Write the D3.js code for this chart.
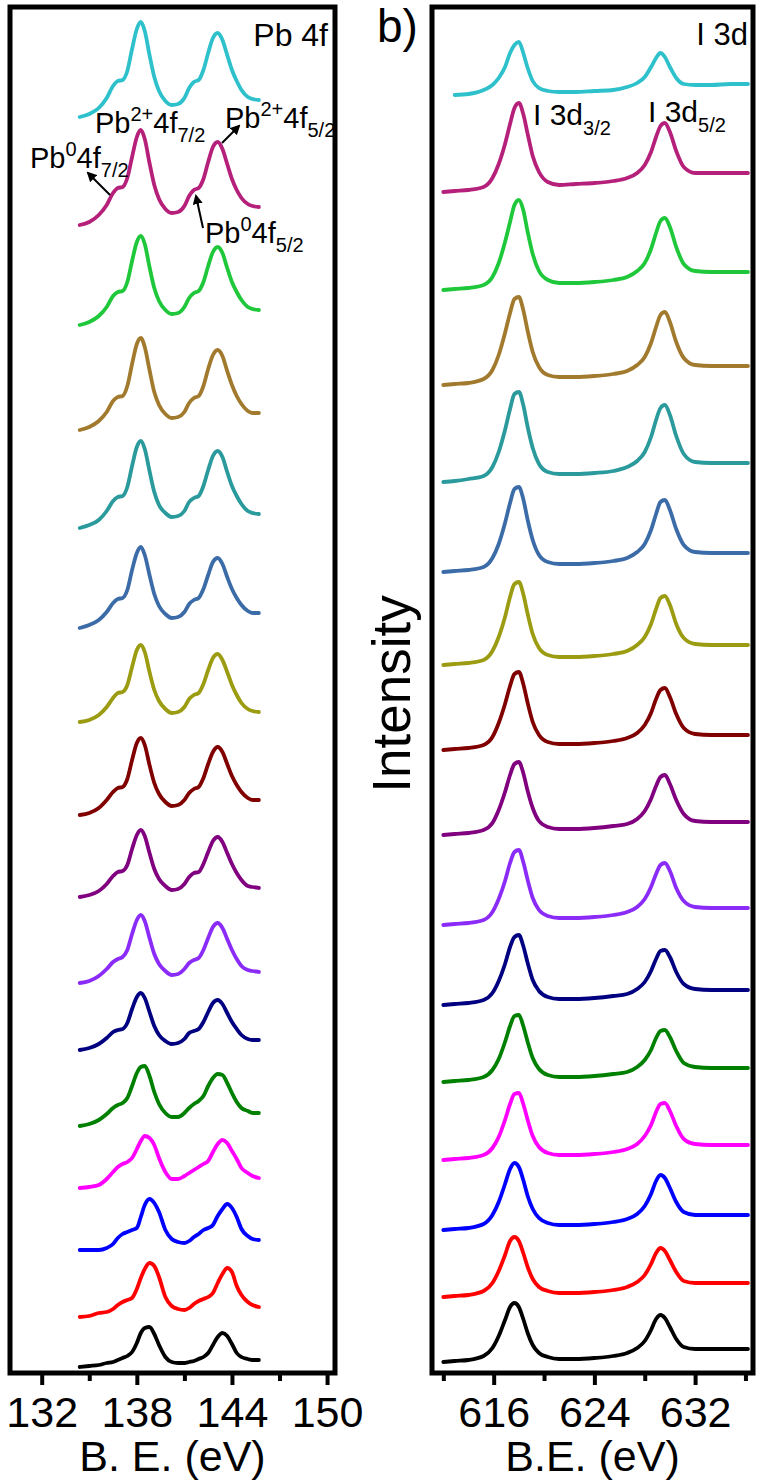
<!DOCTYPE html>
<html>
<head>
<meta charset="utf-8">
<script src="https://cdn.jsdelivr.net/npm/d3@7"></script>
<style>
  body { margin: 0; background: #fff; }
  text { font-family: Arial, "Liberation Sans", sans-serif; fill: #000; }
</style>
</head>
<body>
<svg id="chart" width="760" height="1482"></svg>
<script>
// ---- Pb 4f panel (a) ----
// energies (eV) shared by every Pb 4f trace
const pbEnergy = [134.4, 135.0, 135.6, 136.1, 136.5, 136.8, 137.1, 137.4, 137.7, 138.0, 138.25, 138.5,
  138.8, 139.1, 139.4, 139.8, 140.2, 140.6, 141.0, 141.3, 141.6, 141.9, 142.2, 142.5, 142.8, 143.1,
  143.4, 143.7, 144.0, 144.3, 144.6, 145.0, 145.3, 145.7];
// bottom trace first
const pbColors = ['#000000', '#ff0000', '#0000ff', '#ff00ff', '#008000', '#000080', '#8b2bf7', '#800080',
  '#800000', '#9c9c12', '#3c6ca8', '#2a9a9c', '#a27a2e', '#1fc83a', '#b5217a', '#2ec1cb'];
const pbOffsets = [6, 56, 123, 185, 247, 323, 390, 476, 558, 651, 745, 845, 943, 1048, 1148, 1256];
const pbSpectra = [
  [0,1,2,4,5,7,9,11,15,24,34,39,40,33,22,10,5,4,4,5,6,8,10,14,22,30,34,31,23,14,10,8,7,7],
  [0,1,4,5,8,12,15,17,19,28,39,48,54,51,40,20,11,8,7,9,13,16,18,20,24,34,43,49,45,31,22,15,12,10],
  [0,0,0,2,6,12,16,18,20,22,33,45,51,47,38,20,11,8,7,9,13,16,20,22,25,34,41,46,42,33,21,14,11,10],
  [0,1,3,9,16,21,24,26,30,39,47,52,50,43,30,16,9,9,12,15,18,21,24,27,36,44,48,45,37,29,20,15,12,10],
  [0,2,6,12,18,21,23,28,40,53,59,60,50,34,22,13,9,9,13,18,22,25,30,40,48,52,51,43,33,24,18,15,13,13],
  [0,2,6,12,18,20,21,27,41,53,57,52,38,24,15,9,6,7,11,17,19,21,28,38,47,50,46,37,28,21,15,11,10,10],
  [0,2,7,14,21,24,26,33,49,63,68,62,45,29,19,12,8,9,14,20,23,25,33,45,56,60,55,44,33,24,17,13,12,11],
  [0,2,6,13,21,25,26,32,48,62,67,61,44,28,18,11,7,8,13,20,24,25,33,45,56,60,55,44,33,24,17,11,10,9],
  [0,2,7,15,23,27,28,36,55,72,77,70,50,32,21,13,9,10,15,22,26,28,37,51,63,68,63,51,39,30,23,17,15,15],
  [0,2,7,15,24,29,30,37,55,72,77,70,50,32,21,13,9,10,15,23,27,29,38,52,64,68,62,50,37,27,19,13,11,10],
  [0,3,8,16,25,29,30,38,58,75,81,73,53,34,22,14,10,11,16,24,28,30,39,53,66,70,64,51,39,30,23,17,15,15],
  [0,3,8,17,27,31,32,41,62,81,87,79,57,36,23,15,11,12,17,26,30,32,42,58,72,77,71,56,42,32,24,17,15,14],
  [0,3,9,18,29,33,34,44,66,86,92,83,60,38,25,16,12,13,18,27,32,34,44,61,75,80,74,59,45,34,26,19,17,17],
  [0,3,9,18,29,33,34,43,64,83,89,81,58,37,24,15,11,12,18,27,32,34,43,59,73,78,72,57,43,33,25,18,16,15],
  [0,3,10,20,32,37,38,47,68,88,95,86,62,40,26,16,12,13,19,29,35,37,46,63,78,83,76,61,46,35,27,21,19,18],
  [0,3,9,19,31,36,37,46,68,88,95,86,62,40,26,16,12,13,19,29,35,37,47,64,79,84,77,62,47,36,27,20,18,17]
];
const pbMajorTicks = [132, 138, 144, 150];
const pbMinorTicks = [135, 141, 147];

// ---- I 3d panel (b) ----
const iEnergy = [612.0, 612.9, 614.0, 615.2, 615.9, 616.4, 616.9, 617.3, 617.65, 618.0, 618.35, 618.7,
  619.1, 619.6, 620.3, 621.2, 622.5, 624.0, 625.5, 626.6, 627.4, 628.0, 628.5, 628.9, 629.25, 629.6,
  630.0, 630.5, 631.1, 632.0, 633.3, 634.8, 636.2];
const iColors = pbColors;
const iOffsets = [11, 76, 143, 213, 291, 368, 448, 538, 623, 708, 801, 891, 988, 1083, 1181, 1278];
const iSpectra = [
  [0,1,2,6,14,26,42,55,59,55,43,29,17,9,5,3,3,4,6,9,14,21,32,43,47,44,35,23,15,13,13,13,13],
  [0,1,2,6,14,26,42,56,60,56,44,30,18,10,6,4,4,5,7,10,15,22,33,44,49,46,37,25,16,14,14,14,14],
  [0,1,2,6,15,28,46,61,67,63,50,34,21,12,7,5,5,6,8,11,16,24,36,49,55,52,42,28,18,15,15,15,15],
  [0,1,2,5,12,23,40,56,66,67,56,40,24,13,7,5,5,6,8,11,16,24,35,48,56,57,49,34,21,16,15,15,15],
  [0,1,2,5,12,23,40,56,66,67,56,40,24,13,7,5,5,6,8,10,15,22,32,44,51,52,45,31,19,15,14,14,14],
  [0,1,2,5,12,24,41,58,68,70,59,42,25,14,8,6,6,7,9,11,16,23,34,46,54,55,48,33,21,16,15,15,15],
  [0,1,2,5,13,26,44,62,73,75,63,45,27,15,9,7,7,8,10,13,18,26,38,51,60,62,54,37,24,18,17,17,17],
  [0,1,2,5,12,25,43,60,71,73,62,44,27,14,8,6,6,7,9,11,16,24,36,49,58,60,51,35,21,14,13,13,13],
  [0,1,2,5,13,27,46,64,76,78,66,47,28,15,8,6,6,7,9,12,17,25,37,51,60,62,53,36,22,16,15,15,15],
  [0,1,2,5,14,28,48,68,81,83,71,51,31,17,10,8,8,9,11,14,20,28,41,56,67,69,60,41,27,21,20,20,20],
  [0,1,2,5,14,28,49,69,83,85,73,52,32,17,10,8,8,9,11,14,20,28,42,58,70,72,62,43,27,20,19,19,19],
  [0,1,3,6,15,30,52,73,88,90,77,55,34,18,10,8,8,9,11,15,21,30,45,62,74,77,67,46,28,20,19,19,19],
  [0,1,2,6,15,30,52,72,86,88,75,54,33,18,10,8,8,9,11,14,20,28,42,58,70,73,63,43,27,20,19,19,19],
  [0,1,2,5,13,27,48,68,85,90,80,58,36,19,10,7,7,8,10,13,19,27,41,57,69,72,63,43,26,19,18,18,18],
  [0,1,2,5,14,28,48,68,84,89,78,58,36,20,10,7,8,9,11,14,19,27,40,55,66,69,60,41,25,19,19,19,19],
  [null,0,1,5,10,17,28,42,50,53,42,27,14,7,4,3,3,4,5,8,12,18,28,37,42,38,28,17,11,10,10,11,11]
];
const iMajorTicks = [616, 624, 632];
const iMinorTicks = [612, 620, 628, 636];

const svg = d3.select('#chart');
const FRAME_TOP = 7;
const FRAME_BOTTOM = 1373;
const LINE_WIDTH = 3.8;
const TICK_FONT = 43;

// one intensity scale for both panels (a.u.)
const yScale = d3.scaleLinear().domain([0, 1366]).range([FRAME_BOTTOM, FRAME_TOP]);

function drawPanel(opts) {
  const x = d3.scaleLinear().domain(opts.domain).range([opts.left, opts.right]);
  const g = svg.append('g');

  // spectra
  opts.spectra.forEach((vals, k) => {
    const line = d3.line()
      .defined(d => d != null)
      .x((d, i) => x(opts.energy[i]))
      .y(d => yScale(d + opts.offsets[k]))
      .curve(d3.curveMonotoneX);
    g.append('path')
      .attr('d', line(vals))
      .attr('fill', 'none')
      .attr('stroke', opts.colors[k])
      .attr('stroke-width', LINE_WIDTH)
      .attr('stroke-linejoin', 'round')
      .attr('stroke-linecap', 'round');
  });

  // frame
  g.append('rect')
    .attr('x', opts.left).attr('y', FRAME_TOP)
    .attr('width', opts.right - opts.left).attr('height', FRAME_BOTTOM - FRAME_TOP)
    .attr('fill', 'none').attr('stroke', '#000').attr('stroke-width', 5);

  // major ticks + labels
  const major = g.append('g')
    .attr('transform', `translate(0,${FRAME_BOTTOM})`)
    .call(d3.axisBottom(x).tickValues(opts.majorTicks).tickSize(12).tickPadding(11));
  major.select('.domain').remove();
  major.selectAll('line').attr('stroke-width', 4);
  major.selectAll('text').attr('font-size', TICK_FONT).attr('font-family', 'Arial, "Liberation Sans", sans-serif');

  // minor ticks
  const minor = g.append('g')
    .attr('transform', `translate(0,${FRAME_BOTTOM})`)
    .call(d3.axisBottom(x).tickValues(opts.minorTicks).tickSize(8).tickFormat(''));
  minor.select('.domain').remove();
  minor.selectAll('line').attr('stroke-width', 4);

  // x axis title
  g.append('text')
    .attr('x', (opts.left + opts.right) / 2)
    .attr('y', 1471)
    .attr('text-anchor', 'middle')
    .attr('font-size', 43)
    .text(opts.title);

  return x;
}

drawPanel({
  left: 10, right: 335, domain: [130, 150.5],
  energy: pbEnergy, spectra: pbSpectra, offsets: pbOffsets, colors: pbColors,
  majorTicks: pbMajorTicks, minorTicks: pbMinorTicks, title: 'B. E. (eV)'
});
drawPanel({
  left: 432, right: 753, domain: [611.1, 636.6],
  energy: iEnergy, spectra: iSpectra, offsets: iOffsets, colors: iColors,
  majorTicks: iMajorTicks, minorTicks: iMinorTicks, title: 'B.E. (eV)'
});

// ---- labels ----
svg.append('text').attr('x', 377).attr('y', 42).attr('font-size', 46).text('b)');
svg.append('text').attr('x', 328).attr('y', 46).attr('font-size', 32).attr('text-anchor', 'end').text('Pb 4f');
svg.append('text').attr('x', 748).attr('y', 45).attr('font-size', 31).attr('text-anchor', 'end').text('I 3d');

svg.append('text')
  .attr('transform', 'translate(410,694) rotate(-90)')
  .attr('text-anchor', 'middle')
  .attr('font-size', 53)
  .text('Intensity');

// label with a superscript and a subscript part
function peakLabel(x, y, base, sup, mid, sub, size) {
  const t = svg.append('text').attr('x', x).attr('y', y).attr('font-size', size);
  const small = Math.round(size * 0.68);
  t.append('tspan').text(base);
  if (sup) t.append('tspan').attr('font-size', small).attr('dy', -size * 0.4).text(sup);
  t.append('tspan').attr('dy', sup ? size * 0.4 : 0).text(mid);
  t.append('tspan').attr('font-size', small).attr('dy', size * 0.32).text(sub);
}
peakLabel(95, 133, 'Pb', '2+', '4f', '7/2', 29);
peakLabel(225, 128, 'Pb', '2+', '4f', '5/2', 29);
peakLabel(30, 168, 'Pb', '0', '4f', '7/2', 29);
peakLabel(205, 243, 'Pb', '0', '4f', '5/2', 29);
peakLabel(533, 125, 'I 3d', null, '', '3/2', 30);
peakLabel(648, 122, 'I 3d', null, '', '5/2', 30);

// arrows
svg.append('defs').append('marker')
  .attr('id', 'head').attr('viewBox', '0 0 10 10')
  .attr('refX', 8).attr('refY', 5)
  .attr('markerWidth', 5).attr('markerHeight', 5)
  .attr('orient', 'auto')
  .append('path').attr('d', 'M0,0 L10,5 L0,10 Z').attr('fill', '#000');

const arrows = [
  [110, 195, 88, 173],
  [222, 143, 239, 126],
  [203, 228, 196, 196]
];
svg.selectAll('line.arrow')
  .data(arrows)
  .join('line')
  .attr('class', 'arrow')
  .attr('x1', d => d[0]).attr('y1', d => d[1])
  .attr('x2', d => d[2]).attr('y2', d => d[3])
  .attr('stroke', '#000').attr('stroke-width', 2)
  .attr('marker-end', 'url(#head)');
</script>
</body>
</html>
